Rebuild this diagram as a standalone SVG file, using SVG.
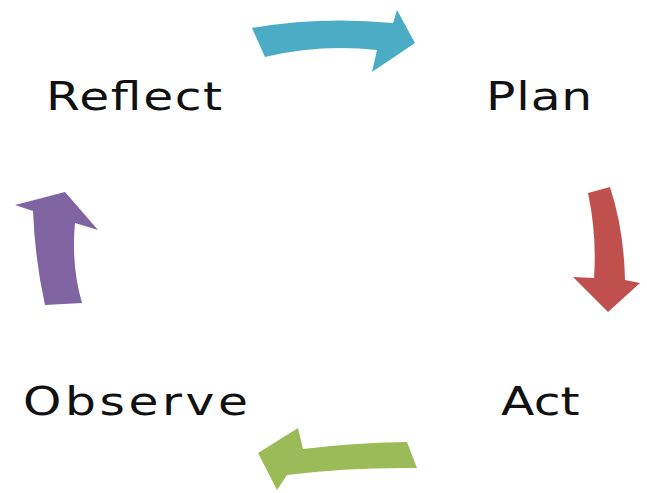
<svg xmlns="http://www.w3.org/2000/svg" width="647" height="493" viewBox="0 0 647 493">
<style>
.lbl{font-family:"DejaVu Sans","Noto Sans",sans-serif;font-size:39px;fill:#111}
</style>
<rect width="647" height="493" fill="#fff"/>
<g id="connectors">
<path id="arrow-plan-act" d="M588,193 L610,187 Q624,230 625,280 L640,283 L608,312 L573,277 L594,278 Q597,235 588,193 Z" fill="#c0504d"/>
<path id="arrow-reflect-plan" d="M252,28 Q320,16 393,23 L397,10 L415,43 L372,72 L377,50 Q320,44 265,57 Z" fill="#4bacc6"/>
<path id="arrow-act-observe" d="M407,442 Q350,443 303,449 L298,428 L258,453 L277,490 L287,475 Q350,467 417,468 Z" fill="#9bbb59"/>
<path id="arrow-observe-reflect" d="M45,305 Q35,260 33,211 L15,205 L65,192 L98,230 L75,223 Q71,265 82,303 Z" fill="#8064a2"/>
</g>
<g id="node-reflect"><text class="lbl" transform="translate(46,110) scale(1.25,1)" textLength="141" lengthAdjust="spacing">Reflect</text></g>
<g id="node-plan"><text class="lbl" transform="translate(486,110) scale(1.25,1)" textLength="85" lengthAdjust="spacing">Plan</text></g>
<g id="node-act"><text class="lbl" transform="translate(501,415) scale(1.25,1)" textLength="63" lengthAdjust="spacing">Act</text></g>
<g id="node-observe"><text class="lbl" transform="translate(23,415) scale(1.25,1)" textLength="180" lengthAdjust="spacing">Observe</text></g>
</svg>
